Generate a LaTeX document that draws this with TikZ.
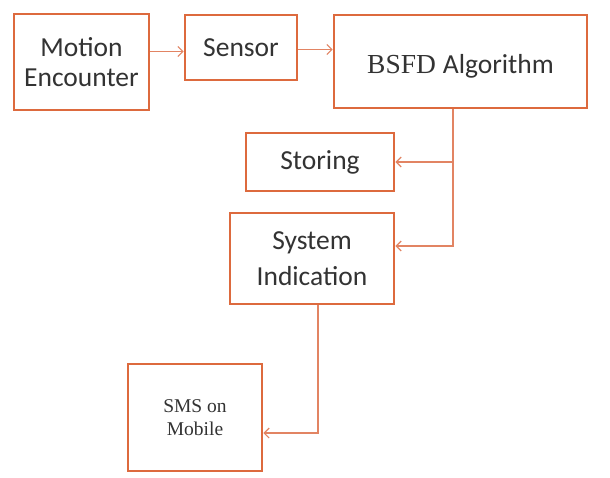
\documentclass[tikz,border=0pt]{standalone}
\usepackage{fontspec}
\setmainfont{Carlito}
\newfontfamily\timesf{Liberation Serif}
\usetikzlibrary{arrows.meta,calc}
\definecolor{boxc}{HTML}{DD6A3E}
\definecolor{linec}{HTML}{E28463}
\definecolor{txt}{HTML}{333333}
\begin{document}
\begin{tikzpicture}[x=1pt,y=-1pt,
  blk/.style={draw=boxc,line width=2.6pt,fill=white,rectangle,align=center,text=txt,
    font=\fontsize{27.5}{30}\selectfont,inner sep=0pt},
  conn/.style={draw=linec,line width=1.3pt,-{Straight Barb[length=5pt,width=10pt,line width=1.2pt]}}]
\fill[white] (0,0) rectangle (610,478);
\useasboundingbox (0,0) rectangle (610,478);
\node[blk,minimum width=135,minimum height=96] (motion) at (81.5,62) {Motion\\Encounter};
\node[blk,minimum width=112,minimum height=65] (sensor) at (241,47.5) {Sensor};
\node[blk,minimum width=253,minimum height=93] (bsfd) at (460.5,61.5) {\raisebox{-5pt}[\height][\depth]{\timesf BSFD\ \normalfont Algorithm}};
\node[blk,minimum width=148,minimum height=58] (storing) at (320,162) {Storing};
\node[blk,minimum width=164,minimum height=91,font=\fontsize{27.5}{36}\selectfont] (system) at (312,258.5) {System\\Indication};
\node[blk,minimum width=134,minimum height=107,font=\timesf\fontsize{19.5}{23}\selectfont] (sms) at (195,417.5) {SMS on\\Mobile};
\coordinate (split) at (453,162);
\coordinate (drop) at (318,433);
\draw[conn] ([yshift=-4pt]motion.east |- sensor.west) -- ([yshift=-4pt]sensor.west);
\draw[conn] ([yshift=-2pt]sensor.east) -- ([yshift=-2pt]sensor.east -| bsfd.west);
\draw[conn] (bsfd.south -| split) |- (storing.east);
\draw[conn] (split) |- ([yshift=12.5pt]system.east);
\draw[conn] (system.south -| drop) |- ([yshift=-15.5pt]sms.east);
\end{tikzpicture}
\end{document}
